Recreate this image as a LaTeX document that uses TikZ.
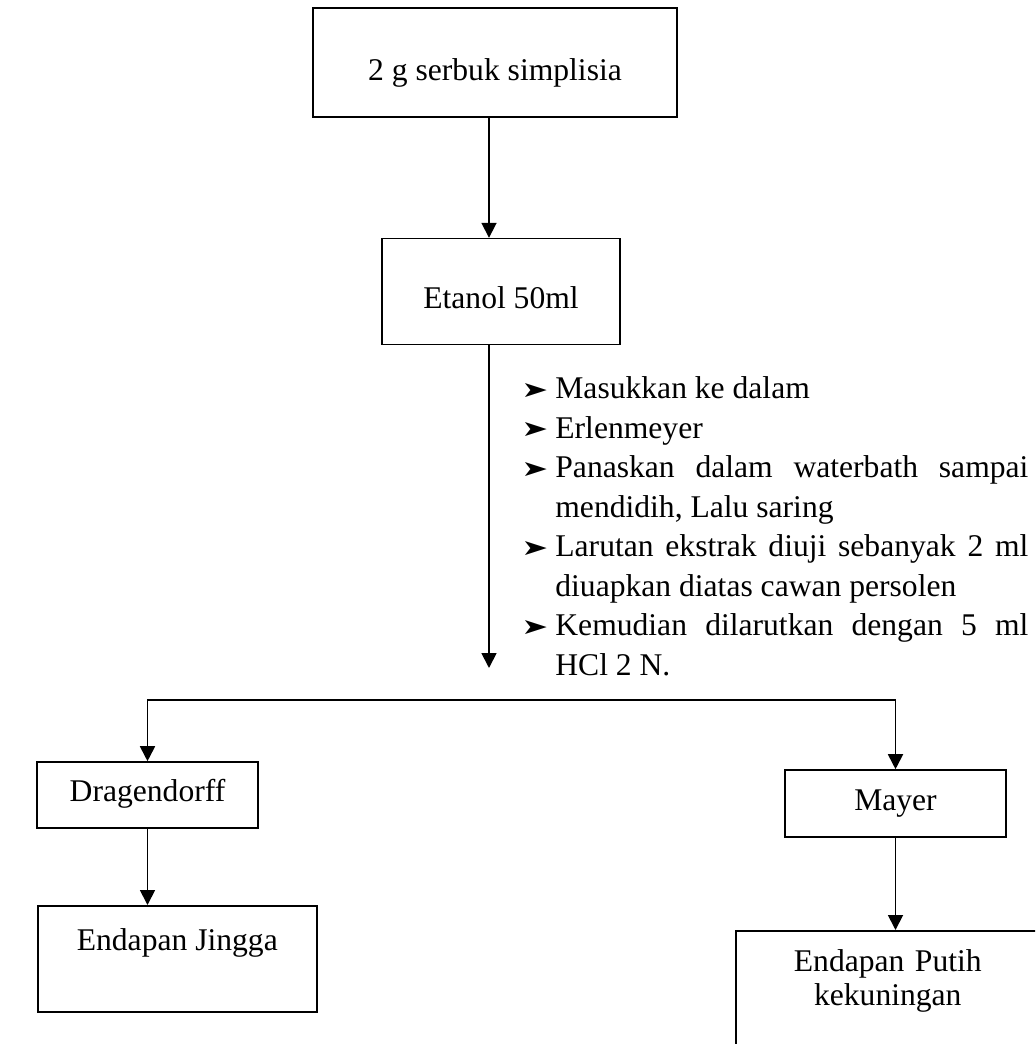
\documentclass[tikz,border=0pt]{standalone}
\usepackage{fontspec}
\setmainfont{Liberation Serif}
\newfontfamily\simbol{DejaVu Sans}
\usetikzlibrary{arrows.meta,positioning}

\newcommand{\panah}{\raisebox{0.8pt}{\resizebox{13.5pt}{7pt}{\simbol ➤}}}

\begin{document}
\begin{tikzpicture}[
  x=0.5pt, y=-0.5pt,
  font=\fontsize{15.8pt}{19.75pt}\selectfont,
  kotak/.style={rectangle, draw, line width=0.8pt, inner sep=0pt, align=center},
  arr/.style={-{Triangle[length=7.5pt,width=7.5pt]}, line width=0.9pt}
]
\clip (0,0) rectangle (1035,1044);
\node[kotak, minimum width=182pt, text height=36pt, text depth=18.5pt] (bahan) at (495,62.5) {2 g serbuk simplisia};
\node[kotak, minimum width=119pt, text height=35pt, text depth=18pt, below=60pt of bahan, xshift=3pt] (etanol) {Etanol 50ml};
\node[anchor=north west, text width=254pt, inner sep=0pt, align=justify] (langkah) at (520,359) {%
  \begin{list}{\panah}{\setlength{\leftmargin}{17.5pt}\setlength{\labelsep}{3.5pt}%
    \setlength{\labelwidth}{14pt}\setlength{\itemsep}{0pt}\setlength{\parsep}{0pt}%
    \setlength{\topsep}{0pt}\setlength{\partopsep}{0pt}}
  \item Masukkan ke dalam
  \item Erlenmeyer
  \item Panaskan dalam waterbath sampai\linebreak mendidih, Lalu saring
  \item Larutan ekstrak diuji sebanyak 2 ml\linebreak diuapkan diatas cawan persolen
  \item Kemudian dilarutkan dengan 5 ml\linebreak HCl 2 N.
  \end{list}};
\coordinate (ujung) at (489,668);
\coordinate (pisah) at (489,700);

\node[kotak, minimum width=110.5pt, text height=19.5pt, text depth=13.5pt] (drag) at (147.5,795) {Dragendorff};
\node[kotak, minimum width=110.5pt, text height=20pt, text depth=13.5pt] (mayer) at (895.5,803.5) {Mayer};
\node[kotak, anchor=north west, minimum width=139.5pt, text height=22.5pt, text depth=30.5pt] (jingga) at (37,905) {Endapan Jingga};
\node[kotak, anchor=north west, text width=152pt, text height=20.5pt, text depth=49.5pt,
  font=\fontsize{15.8pt}{17pt}\selectfont] (putih) at (735,930) {Endapan Putih\\kekuningan};

\draw[arr] (bahan.south -| ujung) -- (etanol.north -| ujung);
\draw[arr] (etanol.south -| ujung) -- (ujung);
\draw[arr] (pisah) -| (drag.north);
\draw[arr] (pisah) -| (mayer.north);
\draw[arr] (drag) -- (drag |- jingga.north);
\draw[arr] (mayer) -- (mayer |- putih.north);
\end{tikzpicture}
\end{document}
